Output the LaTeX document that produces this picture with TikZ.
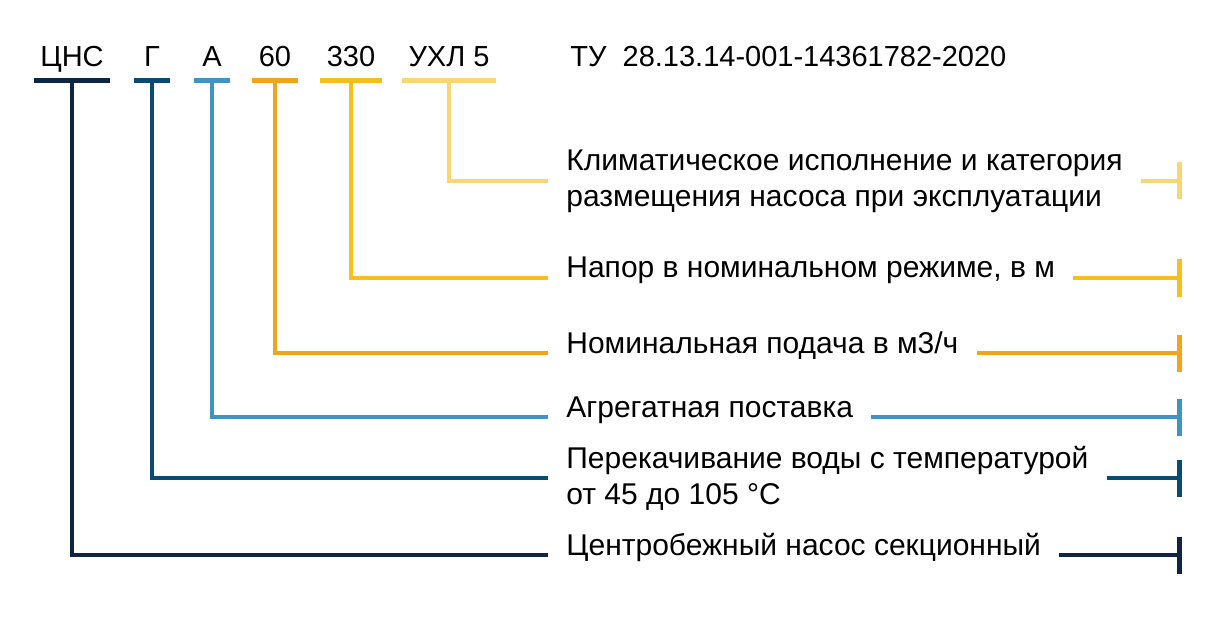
\documentclass[tikz,border=0pt]{standalone}
\usepackage{fontspec}
\setmainfont{Liberation Sans}
\usetikzlibrary{arrows.meta}
\definecolor{cnavy}{HTML}{0F2541}
\definecolor{cpetrol}{HTML}{0B4B72}
\definecolor{csky}{HTML}{3F93C5}
\definecolor{corange}{HTML}{F2A51A}
\definecolor{cyellow}{HTML}{F7BE1E}
\definecolor{csand}{HTML}{F8D672}

\begin{document}
\begin{tikzpicture}[line join=miter,x=0.5pt,y=-0.5pt,font=\fontsize{15}{18}\selectfont,
		code/.style={anchor=base,inner xsep=3pt,inner ysep=6.5pt,text depth=0pt,minimum width=17.5pt,font=\fontsize{14.5}{17}\selectfont},
		desc/.style={inner xsep=9pt,inner ysep=0pt,align=left},
		lead/.style={line width=2.3pt},
		stop/.style={lead,-{Bar[width=18.5pt]}}]
		\useasboundingbox (0,0) rectangle (1220,620);
		\coordinate (rim) at (1182,0);
		% code row
		\foreach \nm/\txt/\xx/\cl in {cns/ЦНС/72/cnavy,g/Г/152/cpetrol,a/А/212/csky,q/60/275/corange,h/330/351/cyellow,uhl/УХЛ 5/449/csand}
		{
		\node[code] (\nm) at (\xx,67) {\txt};
		\draw[lead,color=\cl] (\nm.south west) -- (\nm.south east);
		}
		\node[anchor=base west,inner sep=0pt,font=\fontsize{14.5}{17}\selectfont] (tu) at (570,67) {ТУ\ \ 28.13.14-001-14361782-2020};
		% descriptions
		\node[desc,anchor=west] (duhl) at (548,181) {Климатическое исполнение и категория\\размещения насоса при эксплуатации};
		\node[desc,anchor=base west] (dh) at (548,278) {Напор в номинальном режиме, в м};
		\node[desc,anchor=base west] (dq) at (548,353) {Номинальная подача в м3/ч};
		\node[desc,anchor=base west] (da) at (548,417) {Агрегатная поставка};
		\node[desc,anchor=west] (dg) at (548,478) {Перекачивание воды с температурой\\от 45 до 105 °C};
		\node[desc,anchor=base west] (dcns) at (548,555) {Центробежный насос секционный};
		% leaders
		\draw[lead,csand] (uhl.south) |- (duhl.west);
		\draw[stop,csand] (duhl.east) -- (duhl.east -| rim);
		\draw[lead,cyellow] (h.south) |- (dh.base west);
		\draw[stop,cyellow] (dh.base east) -- (dh.base east -| rim);
		\draw[lead,corange] (q.south) |- (dq.base west);
		\draw[stop,corange] (dq.base east) -- (dq.base east -| rim);
		\draw[lead,csky] (a.south) |- (da.base west);
		\draw[stop,csky] (da.base east) -- (da.base east -| rim);
		\draw[lead,cpetrol] (g.south) |- (dg.west);
		\draw[stop,cpetrol] (dg.east) -- (dg.east -| rim);
		\draw[lead,cnavy] (cns.south) |- (dcns.base west);
		\draw[stop,cnavy] (dcns.base east) -- (dcns.base east -| rim);
\end{tikzpicture}
\end{document}
